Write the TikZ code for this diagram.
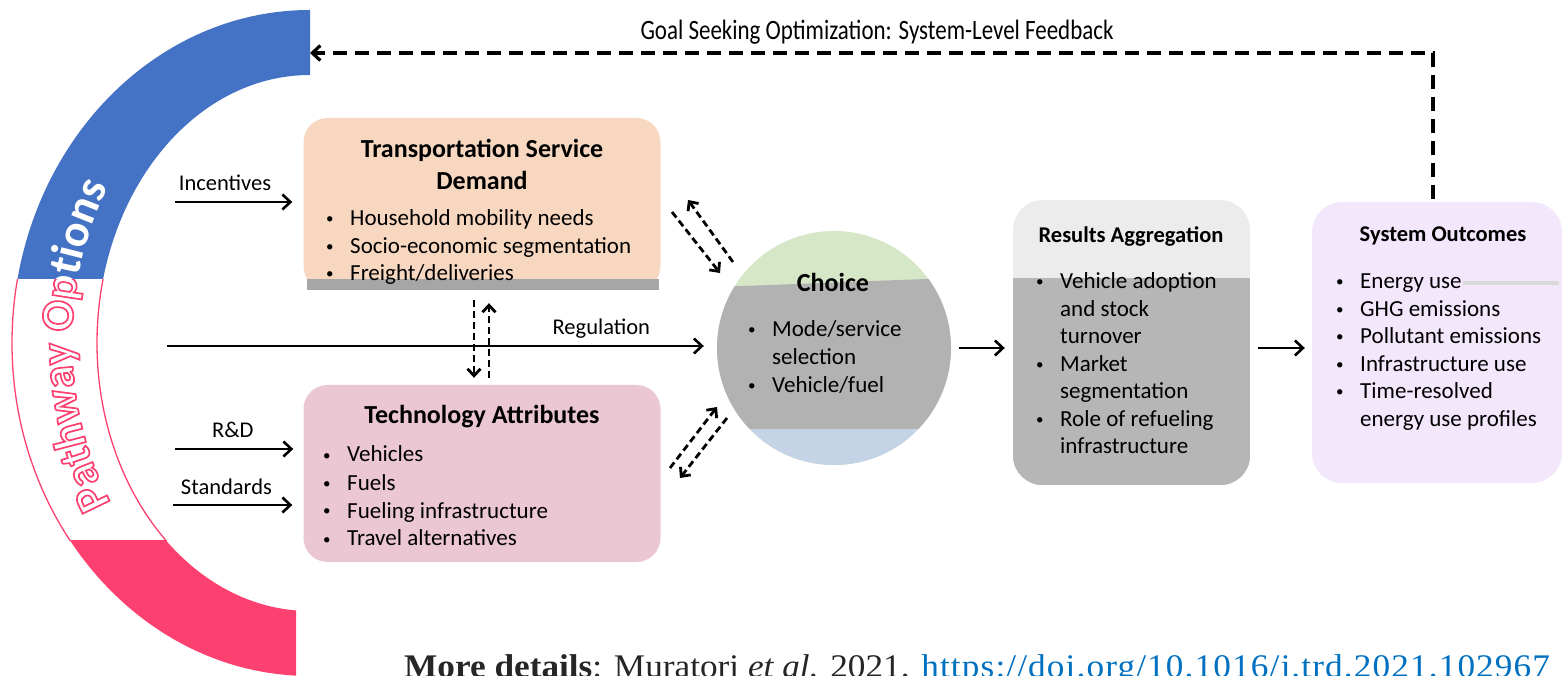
\documentclass[tikz,border=0pt]{standalone}
\usepackage{fontspec}
\setmainfont{Carlito}
\newfontfamily\goalfont[FakeStretch=0.82]{Carlito}
\newfontfamily\reffont[FakeStretch=1.068]{Liberation Serif}
\usetikzlibrary{arrows.meta,decorations.text,positioning}
\definecolor{Bandblue}{RGB}{68,114,196}
\definecolor{Bandpink}{RGB}{252,65,112}
\definecolor{Demandpeach}{RGB}{248,215,193}
\definecolor{Techpink}{RGB}{235,198,211}
\definecolor{Choicegreen}{RGB}{214,231,199}
\definecolor{Choicegray}{RGB}{178,178,178}
\definecolor{Choiceblue}{RGB}{196,212,230}
\definecolor{Resultslight}{RGB}{236,236,236}
\definecolor{Resultsdark}{RGB}{182,182,182}
\definecolor{Outcomeslilac}{RGB}{243,231,252}
\definecolor{Stripgray}{RGB}{166,166,166}
\definecolor{Linkblue}{RGB}{0,112,192}
\newcommand{\listdot}{\makebox[24pt][l]{\raisebox{2pt}{\fontsize{15}{15}\selectfont\textbullet}}}

\begin{document}
\begin{tikzpicture}[x=1pt,y=1pt,
    box/.style={rounded corners=24pt, inner sep=0pt},
    boxtitle/.style={font=\fontsize{26}{32}\selectfont\bfseries, align=center, inner sep=0pt},
    smalltitle/.style={font=\fontsize{22.5}{27}\selectfont\bfseries, inner sep=0pt},
    items/.style={font=\fontsize{23}{27.5}\selectfont, inner sep=0pt, anchor=base west},
    lbl/.style={font=\fontsize{22.5}{27}\selectfont, inner sep=0pt, anchor=base, yshift=11pt},
    flow/.style={line width=2.6pt, -{Straight Barb[length=8pt,width=15pt]}},
    dflow/.style={line width=2.8pt, dash pattern=on 7pt off 4pt, -{Straight Barb[length=7pt,width=13pt]}},
    feedback/.style={line width=3.2pt, dash pattern=on 14pt off 8pt, -{Straight Barb[length=8pt,width=15pt]}}]
    \useasboundingbox (0,0) rectangle (1565,675);
    \clip (0,0) rectangle (1565,675);

    % pathway options ring
    \coordinate (pc) at (310,332);
    \foreach \bandcol/\ylo/\yhi/\xhi in {Bandblue/395/680/310, white/135/395/310, Bandpink/-5/135/296}{
        \begin{scope}
            \clip (-5,\ylo) rectangle (\xhi,\yhi);
            \fill[\bandcol] ([shift={(pc)}]90:298 and 333) arc[start angle=90, end angle=270, x radius=298, y radius=333]
                -- ([shift={(pc)}]270:213 and 268) arc[start angle=270, end angle=90, x radius=213, y radius=268] -- cycle;
        \end{scope}
    }
    \begin{scope}
        \clip (-5,135) rectangle (310,395);
        \draw[Bandpink, line width=1.3pt] ([shift={(pc)}]90:298 and 333) arc[start angle=90, end angle=270, x radius=298, y radius=333];
        \draw[Bandpink, line width=1.3pt] ([shift={(pc)}]90:213 and 268) arc[start angle=90, end angle=270, x radius=213, y radius=268];
    \end{scope}
    \begin{scope}
        \clip (-5,395) rectangle (320,680);
        \path[decorate, decoration={text along path, text align=center,
            text={|\fontsize{46}{46}\selectfont\bfseries\color{white}|Pathway Options}}]
            ([shift={(pc)}]222:238 and 292) arc[start angle=222, end angle=139, x radius=238, y radius=292];
    \end{scope}
    \begin{scope}
        \clip (-5,130) rectangle (320,395);
        \path[decorate, decoration={text along path, text align=center,
            text={|\fontsize{46}{46}\selectfont\bfseries\color{white}\special{pdf:literal direct 0.99 0.25 0.44 RG 2 Tr 1.7 w}|Pathway Options}}]
            ([shift={(pc)}]222:238 and 292) arc[start angle=222, end angle=139, x radius=238, y radius=292];
    \end{scope}

    % transportation service demand
    \node[box, fill=Demandpeach, minimum width=357pt, minimum height=172pt] (demand) at (482,471) {};
    \fill[Stripgray] ([xshift=4pt]demand.south west) rectangle ([shift={(-2pt,11pt)}]demand.south east);
    \node[boxtitle] (demandtitle) at (482,511) {Transportation Service\\Demand};
    \node[items] (demandlist) at (326,449) {\begin{tabular}[t]{@{}l@{}l@{}}
        \listdot & Household mobility needs\\
        \listdot & Socio-economic segmentation\\
        \listdot & Freight/deliveries
    \end{tabular}};

    % technology attributes
    \node[box, fill=Techpink, minimum width=357pt, minimum height=177pt] (tech) at (482,201.5) {};
    \node[boxtitle] (techtitle) at (482,258) {Technology Attributes};
    \node[items, font=\fontsize{23}{28}\selectfont] (techlist) at (323,213) {\begin{tabular}[t]{@{}l@{}l@{}}
        \listdot & Vehicles\\
        \listdot & Fuels\\
        \listdot & Fueling infrastructure\\
        \listdot & Travel alternatives
    \end{tabular}};

    % choice
    \node[circle, fill=Choicegreen, minimum size=234pt, inner sep=0pt] (choice) at (834,327) {};
    \begin{scope}
        \clip (choice.center) circle[radius=117pt];
        \fill[Choicegray] ([yshift=61pt]choice.west) -- ([yshift=70pt]choice.east)
            -- ([yshift=-81pt]choice.east) -- ([yshift=-81pt]choice.west) -- cycle;
        \fill[Choiceblue] ([yshift=-81pt]choice.west) rectangle ([yshift=-120pt]choice.east);
    \end{scope}
    \node[boxtitle] (choicetitle) at (833,393) {Choice};
    \node[items, font=\fontsize{23}{28}\selectfont] (choicelist) at (748,338) {\begin{tabular}[t]{@{}l@{}l@{}}
        \listdot & Mode/service\\
                 & selection\\
        \listdot & Vehicle/fuel
    \end{tabular}};

    % results aggregation
    \node[box, rounded corners=30pt, fill=Resultslight, minimum width=237pt, minimum height=285pt] (results) at (1131.5,332.5) {};
    \begin{scope}
        \clip[rounded corners=30pt] (results.south west) rectangle (results.north east);
        \fill[Resultsdark] (results.south west) rectangle ([yshift=-78pt]results.north east);
    \end{scope}
    \node[smalltitle] (resultstitle) at (1131,439) {Results Aggregation};
    \node[items] (resultslist) at (1036,386) {\begin{tabular}[t]{@{}l@{}l@{}}
        \listdot & Vehicle adoption\\
                 & and stock\\
                 & turnover\\
        \listdot & Market\\
                 & segmentation\\
        \listdot & Role of refueling\\
                 & infrastructure
    \end{tabular}};

    % system outcomes
    \node[box, rounded corners=30pt, fill=Outcomeslilac, minimum width=250pt, minimum height=281pt] (outcomes) at (1437,332.5) {};
    \draw[Resultslight!92!black, line width=3.5pt] (1463,392) -- (1559,392);
    \node[smalltitle] (outcomestitle) at (1443,439) {System Outcomes};
    \node[items] (outcomeslist) at (1336,386) {\begin{tabular}[t]{@{}l@{}l@{}}
        \listdot & Energy use\\
        \listdot & GHG emissions\\
        \listdot & Pollutant emissions\\
        \listdot & Infrastructure use\\
        \listdot & Time-resolved\\
                 & energy use profiles
    \end{tabular}};

    % levers
    \coordinate (incstart) at (175,473);
    \coordinate (rdstart) at (175,226);
    \coordinate (stdstart) at (173,170);
    \coordinate (regstart) at (167,329);
    \draw[flow, shorten >=11pt] (incstart) -- node[lbl, pos=0.39] {Incentives} (incstart -| demand.west);
    \draw[flow, shorten >=10pt] (rdstart) -- node[lbl, pos=0.45] {R\&D} (rdstart -| tech.west);
    \draw[flow, shorten >=11pt] (stdstart) -- node[lbl, pos=0.41] {Standards} (stdstart -| tech.west);
    \draw[flow, shorten >=13pt] (regstart) -- node[lbl, pos=0.79] {Regulation} (regstart -| choice.west);

    % exchanges between demand, technology and choice
    \draw[dflow, shorten <=10pt, shorten >=7pt] ([xshift=-8pt]demand.south) -- ([xshift=-8pt]tech.north);
    \draw[dflow, shorten <=7pt, shorten >=13pt] ([xshift=7pt]tech.north) -- ([xshift=7pt]demand.south);
    \coordinate (dmdin) at (733,413);
    \coordinate (dmdtip) at (688,475);
    \coordinate (dmdout) at (672,463);
    \coordinate (chotip) at (720,402);
    \coordinate (techout) at (670,207);
    \coordinate (chotipb) at (717,268);
    \coordinate (choout) at (727,257);
    \coordinate (techtip) at (680,197);
    \draw[dflow] (dmdin) -- (dmdtip);
    \draw[dflow] (dmdout) -- (chotip);
    \draw[dflow] (techout) -- (chotipb);
    \draw[dflow] (choout) -- (techtip);

    % main flow
    \draw[flow, shorten <=8pt, shorten >=8pt] (choice.east) -- (choice.east -| results.west);
    \draw[flow, shorten <=8pt, shorten >=7pt] (results.east |- choice.east) -- (outcomes.west |- choice.east);

    % feedback
    \coordinate (fbtip) at (310,622);
    \draw[feedback, shorten <=3pt] ([xshift=-4pt]outcomes.north) |- (fbtip);
    \node[font=\goalfont\fontsize{28}{28}\selectfont, inner sep=0pt] (goallabel) at (877,643)
        {Goal Seeking Optimization: System-Level Feedback};

    % reference
    \node[font=\reffont\fontsize{33}{33}\selectfont, anchor=base west, inner sep=0pt, text=black!85] (moredetails) at (404,-2)
        {\textbf{More details}: Muratori \textit{et al.} 2021. \textcolor{Linkblue}{\addfontfeature{LetterSpace=3.4}https://doi.org/10.1016/j.trd.2021.102967}};
\end{tikzpicture}
\end{document}
